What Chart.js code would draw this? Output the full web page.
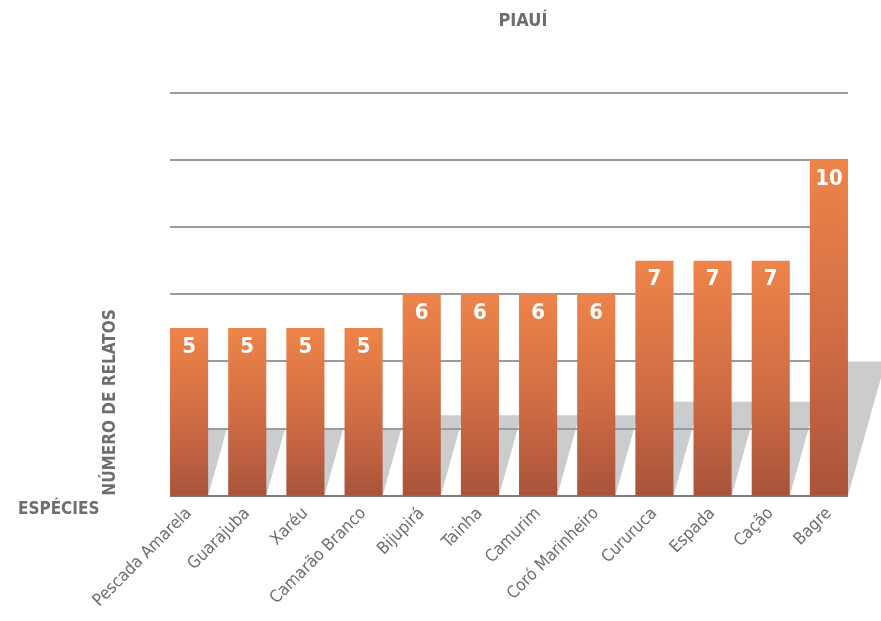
<!DOCTYPE html>
<html>
<head>
<meta charset="utf-8">
<script src="https://cdn.jsdelivr.net/npm/chart.js@4/dist/chart.umd.min.js"></script>
<style>
  html, body { margin: 0; padding: 0; background: #fff; }
  #wrap { width: 881px; height: 621px; }
</style>
</head>
<body>
<div id="wrap"><canvas id="chart" width="881" height="621"></canvas></div>
<script>
/* Piauí - número de relatos por espécie */
const categories = [
  "Pescada Amarela", "Guarajuba", "Xaréu", "Camarão Branco", "Bijupirá",
  "Tainha", "Camurim", "Coró Marinheiro", "Cururuca", "Espada", "Cação", "Bagre"
];
const relatos = [5, 5, 5, 5, 6, 6, 6, 6, 7, 7, 7, 10];
const gridValues = [0, 2, 4, 6, 8, 10, 12];

const TEXT_GREY = "#6d6e71";
const FONT = "'DejaVu Sans Condensed', 'DejaVu Sans', sans-serif";

// gray projected shadow behind each bar
const shadowPlugin = {
  id: "barShadows",
  beforeDraw(chart) {
    const ctx = chart.ctx;
    const meta = chart.getDatasetMeta(0);
    ctx.save();
    ctx.fillStyle = "#cbcccd";
    meta.data.forEach((bar) => {
      const half = bar.width / 2;
      const h = (bar.base - bar.y) * 0.4;
      const shift = h * 0.28;
      ctx.beginPath();
      ctx.moveTo(bar.x - half, bar.base);
      ctx.lineTo(bar.x + half, bar.base);
      ctx.lineTo(bar.x + half + shift, bar.base - h);
      ctx.lineTo(bar.x - half + shift, bar.base - h);
      ctx.closePath();
      ctx.fill();
    });
    ctx.restore();
  },
  // horizontal lines spanning first bar to last bar
  beforeDatasetsDraw(chart) {
    const ctx = chart.ctx;
    const meta = chart.getDatasetMeta(0);
    const first = meta.data[0];
    const last = meta.data[meta.data.length - 1];
    const x0 = first.x - first.width / 2;
    const x1 = last.x + last.width / 2;
    const y = chart.scales.y;
    ctx.save();
    gridValues.forEach((v) => {
      const py = Math.round(y.getPixelForValue(v));
      ctx.strokeStyle = v === 0 ? "#7a7a7c" : "#9a9b9d";
      ctx.lineWidth = 2;
      ctx.beginPath();
      ctx.moveTo(x0, py);
      ctx.lineTo(x1, py);
      ctx.stroke();
    });
    ctx.restore();
  },
  afterDatasetsDraw(chart) {
    const ctx = chart.ctx;
    const meta = chart.getDatasetMeta(0);
    ctx.save();
    ctx.fillStyle = "#ffffff";
    ctx.font = "bold 22px " + FONT;
    ctx.textAlign = "center";
    ctx.textBaseline = "middle";
    meta.data.forEach((bar, i) => {
      ctx.fillText(String(relatos[i]), bar.x, bar.y + 19);
    });
    // chart title and category caption
    ctx.fillStyle = TEXT_GREY;
    ctx.font = "bold 18px " + FONT;
    ctx.fillText("PIAUÍ", 523, 21);
    ctx.font = "bold 17px " + FONT;
    ctx.textAlign = "left";
    ctx.textBaseline = "alphabetic";
    ctx.fillText("ESPÉCIES", 18, 514);
    ctx.restore();
  }
};

function barGradient(context) {
  const chart = context.chart;
  const y = chart.scales.y;
  const v = context.parsed ? context.parsed.y : undefined;
  if (!y || v === undefined) return "#d9703f";
  const top = y.getPixelForValue(v);
  const base = y.getPixelForValue(0);
  if (!isFinite(top) || !isFinite(base) || top === base) return "#d9703f";
  const g = chart.ctx.createLinearGradient(0, top, 0, base);
  g.addColorStop(0, "#ee8449");
  g.addColorStop(0.55, "#cf6c44");
  g.addColorStop(1, "#a9533b");
  return g;
}

new Chart(document.getElementById("chart"), {
  type: "bar",
  data: {
    labels: categories,
    datasets: [
      {
        label: "Número de relatos",
        data: relatos,
        backgroundColor: barGradient,
        borderWidth: 0,
        categoryPercentage: 1,
        barPercentage: 0.655,
      },
    ],
  },
  options: {
    responsive: false,
    animation: false,
    layout: { padding: { left: 90, right: 23, top: 93, bottom: 2 } },
    plugins: {
      legend: { display: false },
      tooltip: { enabled: false },
    },
    scales: {
      x: {
        grid: { display: false, drawTicks: false },
        border: { display: false },
        ticks: {
          autoSkip: false,
          minRotation: 45,
          maxRotation: 45,
          padding: 8,
          color: TEXT_GREY,
          font: { family: FONT, size: 17 },
        },
      },
      y: {
        min: 0,
        max: 12,
        ticks: { display: false, stepSize: 2 },
        grid: { display: false, drawTicks: false },
        border: { display: false },
        title: {
          display: true,
          text: "NÚMERO DE RELATOS",
          align: "start",
          color: TEXT_GREY,
          font: { family: FONT, size: 17, weight: "bold" },
          padding: { top: 10, bottom: 39.6 },
        },
      },
    },
  },
  plugins: [shadowPlugin],
});
</script>
</body>
</html>
